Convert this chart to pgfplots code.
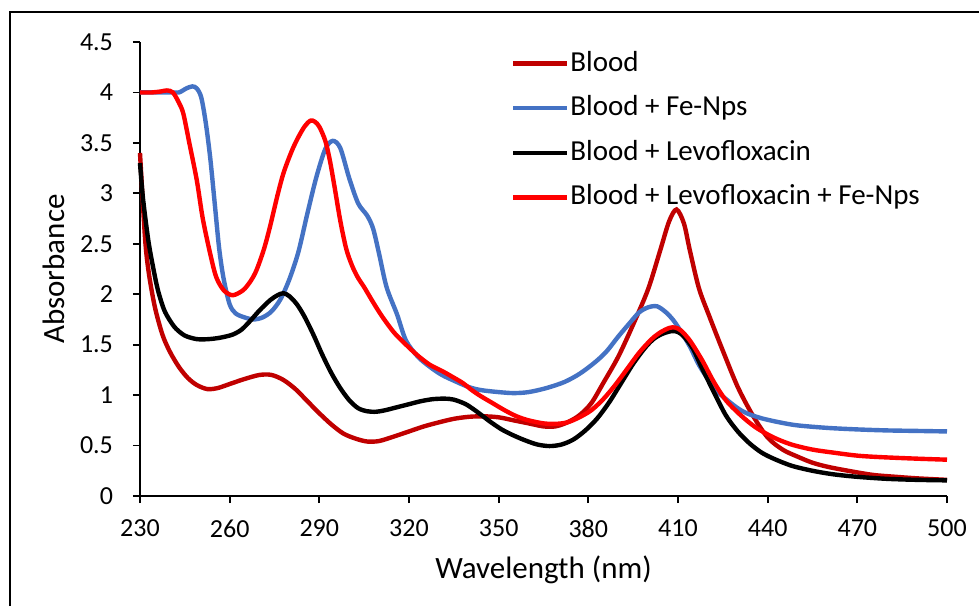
\documentclass[border=0pt]{standalone}
\usepackage{fontspec}
\setmainfont{Carlito}
\usepackage{pgfplots}
\usepackage{pgfplotstable}
\pgfplotsset{compat=1.18}

\definecolor{blood}{HTML}{C00000}
\definecolor{feblue}{HTML}{4472C4}
\definecolor{levofe}{HTML}{FF0000}

% UV-Vis spectra: wavelength (nm) vs absorbance
\pgfplotstableread{
wl   A
230 3.40
231.7 2.55
233 2.20
235 1.87
237.5 1.60
240 1.43
243 1.28
246 1.17
249 1.10
252.5 1.06
256 1.07
260 1.11
265 1.16
270 1.20
274 1.20
278 1.15
282 1.06
286 0.94
290 0.82
294 0.71
298 0.62
302 0.57
306 0.54
310 0.545
315 0.59
320 0.64
325 0.69
330 0.73
335 0.765
340 0.785
345 0.79
350 0.78
355 0.75
360 0.72
365 0.69
369 0.69
373 0.73
377 0.80
381 0.92
385 1.12
390 1.38
395 1.70
400 2.05
404 2.43
407 2.72
409.5 2.84
412 2.70
414 2.43
417 2.06
420.5 1.78
425 1.44
430 1.08
435 0.80
440 0.58
445 0.46
450 0.39
455 0.33
460 0.29
466 0.255
475 0.21
483 0.19
490 0.175
500 0.16
}\blood

\pgfplotstableread{
wl   A
230 4.00
235 4.00
240 4.00
243 4.00
245.5 4.04
247.5 4.06
249 4.04
250.5 3.95
252 3.70
253.5 3.35
255 2.90
256.5 2.45
258 2.15
260 1.90
262 1.81
265 1.77
268 1.75
271 1.77
274 1.83
277 1.95
280 2.15
283 2.42
286 2.80
289 3.16
292 3.44
294.5 3.52
297 3.45
300 3.15
303 2.90
306 2.78
308 2.65
310 2.40
312.5 2.07
316 1.80
319 1.54
323 1.38
327 1.28
331 1.20
336 1.13
340 1.08
344 1.05
350 1.03
355 1.02
360 1.03
366 1.07
372 1.13
377 1.21
382 1.32
386 1.43
390 1.58
394 1.72
397 1.82
400 1.87
403 1.88
406 1.82
408.5 1.74
411 1.63
414 1.48
417 1.30
420 1.16
423 1.04
426.5 0.95
430 0.87
433 0.82
438 0.77
444 0.73
450 0.70
460 0.675
470 0.66
480 0.65
490 0.645
500 0.64
}\bloodfe

\pgfplotstableread{
wl   A
230 3.30
231 2.95
232.8 2.53
234.5 2.25
236 2.04
238 1.85
240 1.74
242 1.66
245 1.59
249 1.555
253 1.555
257 1.57
261 1.60
264 1.65
267 1.74
270 1.84
273.5 1.94
276 1.99
278 2.01
280 1.98
282.5 1.90
285 1.78
288 1.60
291 1.40
294 1.22
297 1.07
300 0.95
303 0.87
306 0.84
309 0.835
312 0.85
316 0.88
320 0.91
324 0.94
328 0.96
332 0.965
335 0.955
339 0.91
343 0.83
347 0.74
351 0.66
355 0.60
359 0.55
363 0.51
367 0.495
371 0.51
375 0.56
379 0.65
383 0.77
387 0.93
391 1.12
395 1.31
399 1.47
402 1.56
405 1.61
408 1.635
410 1.625
412 1.58
415 1.46
418 1.27
422 1.03
426 0.80
430 0.64
434 0.52
438 0.43
442 0.37
448 0.30
455 0.25
462 0.215
470 0.19
480 0.17
490 0.16
500 0.155
}\bloodlevo

\pgfplotstableread{
wl   A
230 4.00
234 4.00
237 4.01
239 4.02
241 4.00
243 3.90
244.5 3.79
246.5 3.50
249 3.13
251 2.75
253.5 2.40
255.5 2.17
258 2.04
261 1.99
264.5 2.04
267 2.13
269 2.24
271.5 2.45
273.5 2.67
276 2.98
278 3.20
280.5 3.40
282.5 3.53
285 3.66
287 3.72
288.5 3.71
290 3.66
292 3.52
293.5 3.33
295 3.08
297 2.73
299 2.45
301 2.28
303 2.16
305 2.07
308 1.92
311 1.78
315 1.62
319 1.50
323 1.39
327 1.30
331 1.24
334 1.19
338 1.12
341 1.05
344 0.99
348 0.92
352 0.85
356 0.79
360 0.75
365 0.72
369 0.715
373 0.73
377 0.78
381 0.85
385 0.96
389 1.10
393 1.26
397 1.42
401 1.55
404 1.62
407 1.665
409 1.67
411 1.64
414 1.54
418 1.35
422 1.13
426 0.95
431 0.80
436 0.68
442 0.58
448 0.51
455 0.46
462 0.43
470 0.40
478 0.385
490 0.37
500 0.36
}\bloodlevofe

\begin{document}
\begin{tikzpicture}
\useasboundingbox (0,0) rectangle (489.5pt,303pt);
\fill[white] (0,0) rectangle (489.5pt,303pt);
% chart frame (left and top edges)
\draw[line width=1.1pt] (5pt,0pt) -- (5pt,297pt) -- (489.5pt,297pt);
\begin{axis}[
  at={(70pt,55pt)}, anchor=south west,
  scale only axis, width=403.5pt, height=227pt,
  xmin=230, xmax=500, ymin=0, ymax=4.5,
  xtick={230,260,...,500},
  ytick={0,0.5,1,1.5,2,2.5,3,3.5,4,4.5},
  axis x line=bottom, axis y line=left,
  axis line style={-, line width=0.9pt, black},
  tick style={line width=0.9pt, black},
  tick align=outside, major tick length=3.5pt,
  /pgf/number format/assume math mode=true,
  ticklabel style={font=\fontsize{13}{15}\selectfont},
  yticklabel style={xshift=-6.5pt},
  xticklabel style={yshift=-5pt},
  xlabel={Wavelength (nm)}, ylabel={Absorbance},
  label style={font=\fontsize{15.5}{18}\selectfont},
  xlabel style={at={(axis description cs:0.5,-0.163)}, anchor=center},
  ylabel style={at={(axis description cs:-0.1066,0.5)}, anchor=center, rotate=0},
  legend cell align=left,
  legend image code/.code={\draw[#1] (0pt,0pt) -- (27pt,0pt);},
  legend style={draw=none, fill=none, inner sep=0pt, outer sep=0pt,
    at={(axis description cs:0.4597,0.982)}, anchor=north west,
    font=\fontsize{14.5}{17}\selectfont,
    column sep=0.5pt, row sep=8.8pt,
    nodes={inner sep=0pt, text height=10.5pt, text depth=3pt}},
  every axis plot/.append style={line width=2.2pt, smooth, tension=0.5},
  clip=false,
]
\addplot[blood] table[x=wl, y=A] {\blood};
\addlegendentry{Blood}
\addplot[feblue] table[x=wl, y=A] {\bloodfe};
\addlegendentry{Blood + Fe-Nps}
\addplot[black] table[x=wl, y=A] {\bloodlevo};
\addlegendentry{Blood + Levofloxacin}
\addplot[levofe] table[x=wl, y=A] {\bloodlevofe};
\addlegendentry{Blood + Levofloxacin + Fe-Nps}
\end{axis}
\end{tikzpicture}
\end{document}
